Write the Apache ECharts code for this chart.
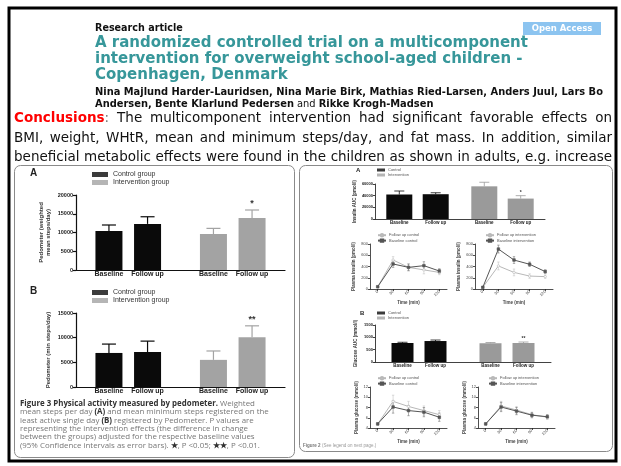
<!DOCTYPE html>
<html><head><meta charset="utf-8">
<script src="https://cdn.jsdelivr.net/npm/echarts@6/dist/echarts.min.js"></script>
<style>html,body{margin:0;padding:0;background:#fff}#c{width:621px;height:466px}</style>
</head><body><div id="c"></div><script>
// ---------- data ----------
const groups = ['Control group', 'Intervention group'];
const phases = ['Baseline', 'Follow up'];

// Figure 3A: weighted mean steps per day
const meanStepsBaseline = [10400, 9600];
const meanStepsFollowUp = [12300, 13900];
const meanStepsBaselineUpper = [12000, 11100];
const meanStepsFollowUpUpper = [14200, 16000];
const meanStepsMarks = ['', '*'];
const meanStepsTicks = [0, 20000, 5000];

// Figure 3B: minimum steps on least active day
const minStepsBaseline = [6900, 5500];
const minStepsFollowUp = [7100, 10100];
const minStepsBaselineUpper = [8700, 7300];
const minStepsFollowUpUpper = [9300, 12400];
const minStepsMarks = ['', '**'];
const minStepsTicks = [0, 15000, 5000];

// Figure 2A: insulin area under curve
const smallGroups = ['Control', 'Intervention'];
const insulinAucBaseline = [42000, 56000];
const insulinAucFollowUp = [42500, 35000];
const insulinAucBaselineUpper = [48000, 63000];
const insulinAucFollowUpUpper = [45000, 40000];
const insulinAucMarks = ['', '*'];
const insulinAucTicks = [0, 60000, 20000];

// Figure 2A: insulin curves
const timePoints = ['0', '30', '60', '90', '120'];
const insulinFollowUpControl = [40, 515, 385, 340, 295];
const insulinBaselineControl = [40, 445, 385, 415, 320];
const insulinControlErr = [10, 60, 60, 70, 40];
const insulinFollowUpIntervention = [30, 410, 295, 230, 220];
const insulinBaselineIntervention = [30, 710, 515, 440, 310];
const insulinInterventionErr = [10, 70, 60, 40, 30];
const insulinTicks = [0, 800, 200];

// Figure 2B: glucose area under curve
const glucoseAucBaseline = [770, 760];
const glucoseAucFollowUp = [850, 770];
const glucoseAucBaselineUpper = [800, 790];
const glucoseAucFollowUpUpper = [890, 810];
const glucoseAucMarks = ['', '**'];
const glucoseAucTicks = [0, 1500, 500];

// Figure 2B: glucose curves
const glucoseFollowUpControl = [4.8, 9.2, 8.2, 7.4, 6.6];
const glucoseBaselineControl = [4.8, 8.1, 7.4, 7.1, 6.1];
const glucoseControlErr = [0.2, 1.2, 1.0, 0.9, 0.8];
const glucoseFollowUpIntervention = [4.8, 8.3, 7.5, 6.6, 6.1];
const glucoseBaselineIntervention = [4.8, 8.1, 7.3, 6.5, 6.2];
const glucoseInterventionErr = [0.2, 0.9, 0.7, 0.5, 0.4];
const glucoseTicks = [4, 12, 2];

// ---------- text ----------
const articleType = 'Research article';
const openAccess = 'Open Access';
const titleLines = [
  'A randomized controlled trial on a multicomponent',
  'intervention for overweight school-aged children -',
  'Copenhagen, Denmark'
];
const authorsLine1 = 'Nina Majlund Harder-Lauridsen, Nina Marie Birk, Mathias Ried-Larsen, Anders Juul, Lars Bo';
const authorsLine2a = 'Andersen, Bente Klarlund Pedersen';
const authorsLine2b = ' and ';
const authorsLine2c = 'Rikke Krogh-Madsen';
const conclusionLines = [
  'Conclusions: The multicomponent intervention had significant favorable effects on',
  'BMI, weight, WHtR, mean and minimum steps/day, and fat mass. In addition, similar',
  'beneficial metabolic effects were found in the children as shown in adults, e.g. increase'
];
// caption lines as [text, bold] segments
const fig3Caption = [
  [['Figure 3 Physical activity measured by pedometer.', 1], [' Weighted', 0]],
  [['mean steps per day ', 0], ['(A)', 1], [' and mean minimum steps registered on the', 0]],
  [['least active single day ', 0], ['(B)', 1], [' registered by Pedometer. P values are', 0]],
  [['representing the intervention effects (the difference in change', 0]],
  [['between the groups) adjusted for the respective baseline values', 0]],
  [['(95% Confidence intervals as error bars). ', 0], ['\u2605', 1], [', P <0.05; ', 0], ['\u2605\u2605', 1], [', P <0.01.', 0]]
];

// ---------- styling ----------
const BLACK = '#0a0a0a';
const GRAY = '#a3a3a3';
const LINE_DARK = '#555555';
const LINE_LIGHT = '#b8b8b8';
const FIG_FONT = 'Liberation Sans';
const plain = v => String(v);

const chart = echarts.init(document.getElementById('c'), null, { renderer: 'canvas' });

const grids = [
  { left: 76, top: 195, width: 209, height: 75 },   // 0 fig3 A
  { left: 76, top: 313, width: 209, height: 74 },   // 1 fig3 B
  { left: 375, top: 184, width: 170, height: 35 },  // 2 fig2 A bars
  { left: 370, top: 244, width: 77, height: 45 },   // 3 fig2 A curve control
  { left: 475, top: 244, width: 78, height: 45 },   // 4 fig2 A curve intervention
  { left: 375, top: 325, width: 176, height: 37 },  // 5 fig2 B bars
  { left: 370, top: 387, width: 77, height: 41 },   // 6 fig2 B curve control
  { left: 478, top: 387, width: 77, height: 41 }    // 7 fig2 B curve intervention
];

const xAxes = [], yAxes = [], series = [], legends = [];

function barPanel(gi, cats, base, fu, baseUp, fuUp, marks, ticks, yName, o) {
  xAxes.push({
    gridIndex: gi, type: 'category', data: cats,
    axisLine: { lineStyle: { color: '#111', width: o.axisW } },
    axisTick: { show: false }, axisLabel: { show: false }
  });
  yAxes.push({
    gridIndex: gi, type: 'value', min: ticks[0], max: ticks[1], interval: ticks[2],
    splitLine: { show: false },
    axisLine: { show: true, lineStyle: { color: '#111', width: o.axisW } },
    axisTick: { show: true, length: o.tick, lineStyle: { color: '#111', width: o.axisW } },
    axisLabel: { formatter: plain, fontFamily: FIG_FONT, fontWeight: 'bold', fontSize: o.tickFont, color: '#222', margin: o.tickMargin },
    name: yName, nameLocation: 'middle', nameRotate: 90, nameGap: o.nameGap,
    nameTextStyle: { fontFamily: FIG_FONT, fontWeight: 'bold', fontSize: o.nameFont, color: '#333', lineHeight: o.nameFont + 1 }
  });
  const ax = xAxes.length - 1;
  const colors = [BLACK, o.gray];
  const mk = (vals, name) => ({
    type: 'bar', name: name, xAxisIndex: ax, yAxisIndex: ax,
    barWidth: o.barW, barGap: o.barGap,
    data: vals.map((v, i) => ({ value: v, itemStyle: { color: colors[i] } })),
    label: {
      show: true, position: 'insideBottom', offset: [0, o.labelOff], formatter: name,
      fontFamily: FIG_FONT, fontWeight: 'bold', fontSize: o.catFont, color: '#222'
    },
    emphasis: { disabled: true }, z: 2
  });
  series.push(mk(base, phases[0]), mk(fu, phases[1]));
  const sep = o.barW * (1 + parseFloat(o.barGap) / 100) / 2;
  const errData = [];
  base.forEach((v, i) => errData.push([i, baseUp[i], v, -1, '']));
  fu.forEach((v, i) => errData.push([i, fuUp[i], v, 1, marks[i]]));
  series.push({
    type: 'custom', xAxisIndex: ax, yAxisIndex: ax, z: 3, silent: true,
    data: errData.map(d => d.slice(0, 4)),
    renderItem: function (params, api) {
      const d = errData[params.dataIndex];
      const top = api.coord([d[0], d[1]]);
      const bot = api.coord([d[0], d[2]]);
      const x = top[0] + d[3] * sep;
      const col = colors[d[0]];
      const ch = [
        { type: 'line', shape: { x1: x, y1: bot[1], x2: x, y2: top[1] }, style: { stroke: col, lineWidth: o.errW } },
        { type: 'line', shape: { x1: x - o.cap, y1: top[1], x2: x + o.cap, y2: top[1] }, style: { stroke: col, lineWidth: o.errW } }
      ];
      if (d[4]) ch.push({ type: 'text', style: { text: d[4], x: x, y: top[1] - o.markGap, textAlign: 'center', textVerticalAlign: 'bottom', font: 'bold ' + o.markFont + 'px ' + FIG_FONT, fill: '#333' } });
      return { type: 'group', children: ch };
    }
  });
  return ax;
}

function curvePanel(gi, a, b, errA, errB, ticks, yName, names, o) {
  xAxes.push({
    gridIndex: gi, type: 'category', data: timePoints, boundaryGap: true,
    axisLine: { lineStyle: { color: '#222', width: 0.8 } },
    axisTick: { show: true, length: 2, alignWithLabel: true, lineStyle: { color: '#222', width: 0.8 } },
    axisLabel: { fontFamily: FIG_FONT, fontSize: 4, color: '#444', rotate: 45, margin: 2 },
    name: 'Time (min)', nameLocation: 'middle', nameGap: 9,
    nameTextStyle: { fontFamily: FIG_FONT, fontWeight: 'bold', fontSize: 4.5, color: '#444' }
  });
  yAxes.push({
    gridIndex: gi, type: 'value', min: ticks[0], max: ticks[1], interval: ticks[2],
    splitLine: { show: false },
    axisLine: { show: true, lineStyle: { color: '#222', width: 0.8 } },
    axisTick: { show: true, length: 2, lineStyle: { color: '#222', width: 0.8 } },
    axisLabel: { formatter: plain, fontFamily: FIG_FONT, fontSize: 4, color: '#444', margin: 2 },
    name: yName, nameLocation: 'middle', nameRotate: 90, nameGap: o.nameGap,
    nameTextStyle: { fontFamily: FIG_FONT, fontWeight: 'bold', fontSize: 4.5, color: '#444' }
  });
  const ax = xAxes.length - 1;
  const line = (vals, name, col, filled) => ({
    type: 'line', name: name, xAxisIndex: ax, yAxisIndex: ax, data: vals,
    symbol: filled ? 'rect' : 'circle', symbolSize: filled ? 2.6 : 2.4,
    lineStyle: { color: col, width: 1 },
    itemStyle: { color: filled ? col : '#fff', borderColor: col, borderWidth: 0.6 },
    emphasis: { disabled: true }, z: filled ? 4 : 3
  });
  series.push(line(a, names[0], LINE_LIGHT, false), line(b, names[1], LINE_DARK, true));
  const errs = [];
  a.forEach((v, i) => errs.push([i, v - errA[i], v + errA[i], 0]));
  b.forEach((v, i) => errs.push([i, v - errB[i], v + errB[i], 1]));
  series.push({
    type: 'custom', xAxisIndex: ax, yAxisIndex: ax, z: 2, silent: true, data: errs,
    renderItem: function (params, api) {
      const lo = api.coord([api.value(0), api.value(1)]);
      const hi = api.coord([api.value(0), api.value(2)]);
      const col = api.value(3) ? '#777' : '#c4c4c4';
      return { type: 'group', children: [
        { type: 'line', shape: { x1: lo[0], y1: lo[1], x2: hi[0], y2: hi[1] }, style: { stroke: col, lineWidth: 0.6 } },
        { type: 'line', shape: { x1: hi[0] - 1.2, y1: hi[1], x2: hi[0] + 1.2, y2: hi[1] }, style: { stroke: col, lineWidth: 0.6 } },
        { type: 'line', shape: { x1: lo[0] - 1.2, y1: lo[1], x2: lo[0] + 1.2, y2: lo[1] }, style: { stroke: col, lineWidth: 0.6 } }
      ] };
    }
  });
  legends.push({
    data: names, left: o.legendLeft, top: o.legendTop, orient: 'vertical',
    itemWidth: 8, itemHeight: 3, itemGap: 1, padding: 0, selectedMode: false,
    textStyle: { fontFamily: FIG_FONT, fontSize: 4, color: '#555', padding: [0, 0, 0, -2] }
  });
}

// legend-only series (swatches for group colours)
function legendSeries(names, ax) {
  [BLACK, GRAY].forEach((c, i) => series.push({ type: 'scatter', name: names[i], xAxisIndex: ax, yAxisIndex: ax, data: [], itemStyle: { color: c } }));
}

const bigOpts = { axisW: 1.2, tick: 3, tickFont: 5.5, tickMargin: 3, nameGap: 24, nameFont: 6, barW: 27, barGap: '43%', labelOff: 13, catFont: 7, errW: 1.2, cap: 7, markGap: 2, markFont: 9, gray: GRAY };
const smallOpts = { axisW: 0.8, tick: 2, tickFont: 4, tickMargin: 2, nameGap: 16, nameFont: 4.5, barW: 26, barGap: '40%', labelOff: 11, catFont: 4.5, errW: 0.8, cap: 5, markGap: 1, markFont: 5, gray: '#9a9a9a' };

const a0 = barPanel(0, groups, meanStepsBaseline, meanStepsFollowUp, meanStepsBaselineUpper, meanStepsFollowUpUpper, meanStepsMarks, meanStepsTicks, 'Pedometer (weighted\nmean steps/day)', bigOpts);
legendSeries(groups, a0);
const a1 = barPanel(1, groups, minStepsBaseline, minStepsFollowUp, minStepsBaselineUpper, minStepsFollowUpUpper, minStepsMarks, minStepsTicks, 'Pedometer (min steps/day)', bigOpts);
const a2 = barPanel(2, smallGroups, insulinAucBaseline, insulinAucFollowUp, insulinAucBaselineUpper, insulinAucFollowUpUpper, insulinAucMarks, insulinAucTicks, 'Insulin AUC (pmol/l)', smallOpts);
legendSeries(smallGroups, a2);
curvePanel(3, insulinFollowUpControl, insulinBaselineControl, insulinControlErr, insulinControlErr, insulinTicks, 'Plasma insulin (pmol/l)', ['Follow up control', 'Baseline control'], { nameGap: 14, legendLeft: 377, legendTop: 233 });
curvePanel(4, insulinFollowUpIntervention, insulinBaselineIntervention, insulinInterventionErr, insulinInterventionErr, insulinTicks, 'Plasma insulin (pmol/l)', ['Follow up intervention', 'Baseline intervention'], { nameGap: 14, legendLeft: 485, legendTop: 233 });
const a5 = barPanel(5, smallGroups, glucoseAucBaseline, glucoseAucFollowUp, glucoseAucBaselineUpper, glucoseAucFollowUpUpper, glucoseAucMarks, glucoseAucTicks, 'Glucose AUC (mmol/l)', Object.assign({}, smallOpts, { barW: 22, barGap: '50%' }));
curvePanel(6, glucoseFollowUpControl, glucoseBaselineControl, glucoseControlErr, glucoseControlErr, glucoseTicks, 'Plasma glucose (mmol/l)', ['Follow up control', 'Baseline control'], { nameGap: 10, legendLeft: 377, legendTop: 376 });
curvePanel(7, glucoseFollowUpIntervention, glucoseBaselineIntervention, glucoseInterventionErr, glucoseInterventionErr, glucoseTicks, 'Plasma glucose (mmol/l)', ['Follow up intervention', 'Baseline intervention'], { nameGap: 10, legendLeft: 488, legendTop: 376 });

const bigLegend = (top) => ({
  data: groups, left: 92, top: top, orient: 'vertical', icon: 'rect',
  itemWidth: 16, itemHeight: 5, itemGap: 1, padding: 0, selectedMode: false,
  textStyle: { fontFamily: FIG_FONT, fontSize: 7, color: '#333' }
});
const smallLegend = (top) => ({
  data: smallGroups, left: 377, top: top, orient: 'vertical', icon: 'rect',
  itemWidth: 8, itemHeight: 3, itemGap: 1, padding: 0, selectedMode: false,
  textStyle: { fontFamily: FIG_FONT, fontSize: 4, color: '#555', padding: [0, 0, 0, -2] }
});
legends.unshift(bigLegend(171), bigLegend(289), smallLegend(168), smallLegend(311));

// ---------- page text ----------
const ctx = document.createElement('canvas').getContext('2d');
function measure(t, font) { ctx.font = font; return ctx.measureText(t).width; }

const graphics = [];
// frames
graphics.push({ type: 'rect', shape: { x: 9, y: 8, width: 607, height: 453 }, style: { fill: 'none', stroke: '#000', lineWidth: 3 }, z: 100 });
graphics.push({ type: 'rect', shape: { x: 14.5, y: 165.5, width: 280, height: 292, r: 6 }, style: { fill: 'none', stroke: '#8a8a8a', lineWidth: 1 }, z: 100 });
graphics.push({ type: 'rect', shape: { x: 299.5, y: 165.5, width: 313, height: 286, r: 6 }, style: { fill: 'none', stroke: '#8a8a8a', lineWidth: 1 }, z: 100 });

const HEAD = 'DejaVu Sans';
graphics.push({ type: 'text', style: { text: articleType, x: 95, y: 28, font: 'bold 9.6px "' + HEAD + '"', fill: '#111', textVerticalAlign: 'middle' } });
graphics.push({ type: 'rect', shape: { x: 523, y: 22, width: 78, height: 13 }, style: { fill: '#8cc4f0' } });
graphics.push({ type: 'text', style: { text: openAccess, x: 562, y: 28.5, font: 'bold 8.5px "' + HEAD + '"', fill: '#fff', textAlign: 'center', textVerticalAlign: 'middle' } });
titleLines.forEach((t, i) => graphics.push({ type: 'text', style: { text: t, x: 95, y: 43.5 + i * 16, font: 'bold 15px "' + HEAD + '"', fill: '#37979a', textVerticalAlign: 'middle' } }));
const aFont = 'bold 9.9px "' + HEAD + '"', nFont = '9.9px "' + HEAD + '"';
graphics.push({ type: 'text', style: { text: authorsLine1, x: 95, y: 92.5, font: aFont, fill: '#111', textVerticalAlign: 'middle' } });
let ax2 = 95;
[[authorsLine2a, aFont], [authorsLine2b, nFont], [authorsLine2c, aFont]].forEach(p => {
  graphics.push({ type: 'text', style: { text: p[0], x: ax2, y: 104, font: p[1], fill: '#111', textVerticalAlign: 'middle' } });
  ax2 += measure(p[0], p[1]);
});

// justified conclusion paragraph
const PARA = 'DejaVu Sans';
const paraX0 = 14, paraX1 = 612;
let paraSize = 100;
conclusionLines.forEach(l => { paraSize = Math.min(paraSize, 100 * (paraX1 - paraX0) / measure(l, '100px "' + PARA + '"')); });
paraSize = Math.floor(paraSize * 10) / 10 - 0.1;
conclusionLines.forEach((line, li) => {
  const y = 118.5 + li * 19.5;
  const words = line.split(' ');
  const fonts = words.map((w, wi) => (li === 0 && wi === 0) ? null : paraSize + 'px "' + PARA + '"');
  const widths = words.map((w, wi) => {
    if (fonts[wi]) return measure(w, fonts[wi]);
    return measure('Conclusions', 'bold ' + paraSize + 'px "' + PARA + '"') + measure(':', paraSize + 'px "' + PARA + '"');
  });
  const total = widths.reduce((s, v) => s + v, 0);
  const gap = (paraX1 - paraX0 - total) / (words.length - 1);
  let x = paraX0;
  words.forEach((w, wi) => {
    if (fonts[wi]) {
      graphics.push({ type: 'text', style: { text: w, x: x, y: y, font: fonts[wi], fill: '#111', textVerticalAlign: 'middle' } });
    } else {
      const bf = 'bold ' + paraSize + 'px "' + PARA + '"';
      graphics.push({ type: 'text', style: { text: 'Conclusions', x: x, y: y, font: bf, fill: '#ff0000', textVerticalAlign: 'middle' } });
      graphics.push({ type: 'text', style: { text: ':', x: x + measure('Conclusions', bf), y: y, font: paraSize + 'px "' + PARA + '"', fill: '#777', textVerticalAlign: 'middle' } });
    }
    x += widths[wi] + gap;
  });
});

// panel letters
graphics.push({ type: 'text', style: { text: 'A', x: 30, y: 173, font: 'bold 10px ' + FIG_FONT, fill: '#222', textVerticalAlign: 'middle' } });
graphics.push({ type: 'text', style: { text: 'B', x: 30, y: 291, font: 'bold 10px ' + FIG_FONT, fill: '#222', textVerticalAlign: 'middle' } });
graphics.push({ type: 'text', style: { text: 'A', x: 356, y: 170, font: 'bold 6px ' + FIG_FONT, fill: '#222', textVerticalAlign: 'middle' } });
graphics.push({ type: 'text', style: { text: 'B', x: 360, y: 313, font: 'bold 6px ' + FIG_FONT, fill: '#222', textVerticalAlign: 'middle' } });

// figure 3 caption
const CAP = 'Open Sans';
const capSize = 7.9;
fig3Caption.forEach((segs, i) => {
  const y = 403.5 + i * 8.4;
  let x = 20;
  segs.forEach(s => {
    const f = (s[1] ? 'bold ' : '') + capSize + 'px "' + CAP + '"';
    graphics.push({ type: 'text', style: { text: s[0], x: x, y: y, font: f, fill: s[1] ? '#333' : '#777', textVerticalAlign: 'middle' } });
    x += measure(s[0], f);
  });
});
graphics.push({ type: 'text', style: { text: 'Figure 2', x: 303, y: 446, font: 'bold 4.5px ' + FIG_FONT, fill: '#777', textVerticalAlign: 'middle' } });
graphics.push({ type: 'text', style: { text: '(See legend on next page.)', x: 322, y: 446, font: '4.5px ' + FIG_FONT, fill: '#999', textVerticalAlign: 'middle' } });

chart.setOption({
  animation: false,
  backgroundColor: '#fff',
  textStyle: { fontFamily: FIG_FONT },
  grid: grids,
  xAxis: xAxes,
  yAxis: yAxes,
  legend: legends,
  series: series,
  graphic: graphics
});
</script></body></html>
